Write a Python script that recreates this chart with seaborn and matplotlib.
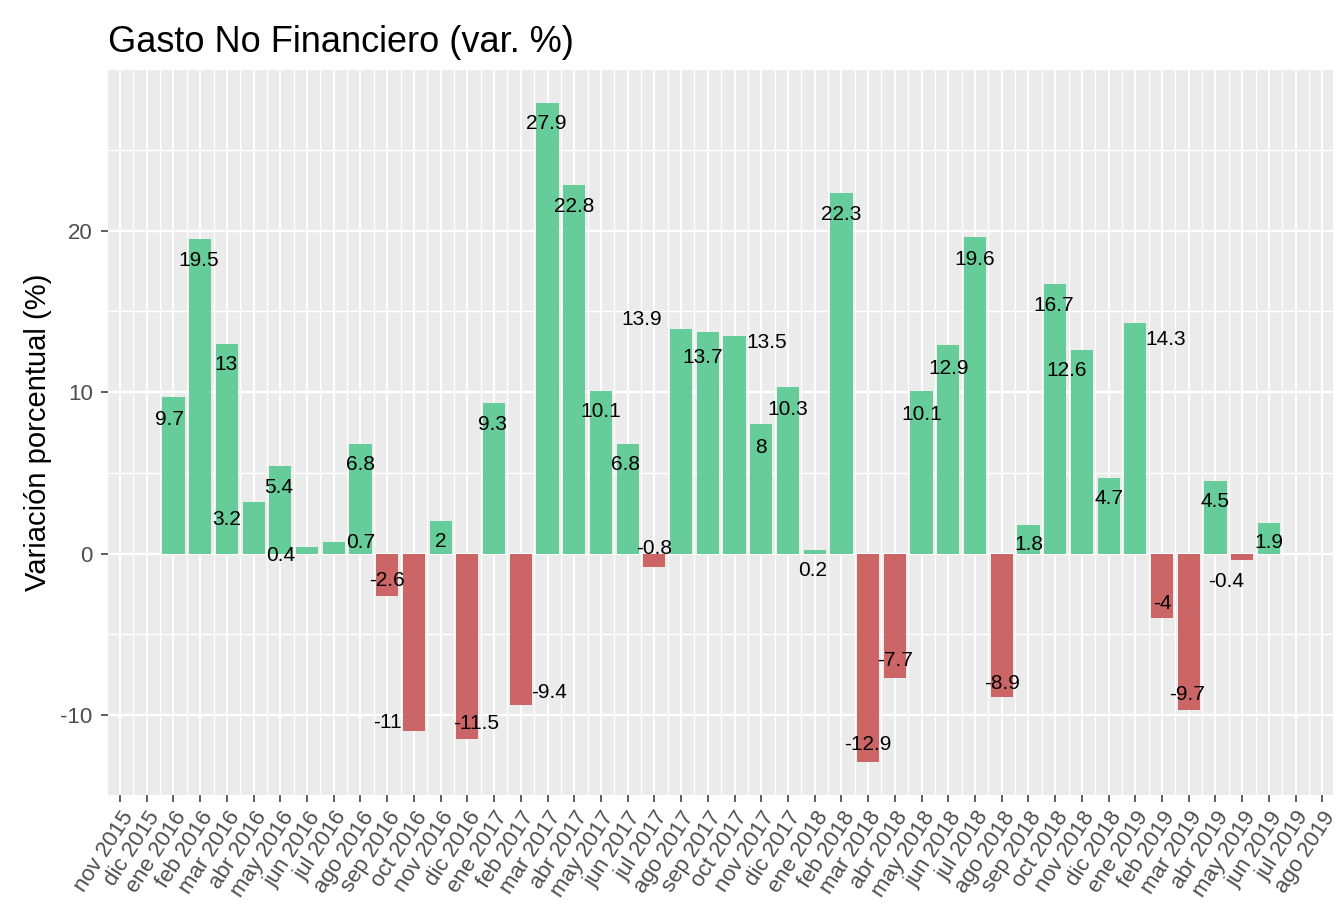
import numpy as np
import pandas as pd
import matplotlib
matplotlib.use("Agg")
import matplotlib.pyplot as plt
from matplotlib.ticker import FixedLocator, MultipleLocator
import seaborn as sns


# ── datos ────────────────────────────────────────────────────────────────────
MESES = ["ene", "feb", "mar", "abr", "may", "jun",
         "jul", "ago", "sep", "oct", "nov", "dic"]

# eje x: nov 2015 .. ago 2019 (un rótulo por mes)
AXIS_MONTHS = [f"{MESES[(10 + k) % 12]} {2015 + (10 + k) // 12}" for k in range(46)]

# barras: ene 2016 .. jun 2019
BAR_MONTHS = AXIS_MONTHS[2:44]

VAR_PCT = [9.7, 19.5, 13, 3.2, 5.4, 0.4, 0.7, 6.8, -2.6, -11, 2, -11.5,
           9.3, -9.4, 27.9, 22.8, 10.1, 6.8, -0.8, 13.9, 13.7, 13.5, 8, 10.3,
           0.2, 22.3, -12.9, -7.7, 10.1, 12.9, 19.6, -8.9, 1.8, 16.7, 12.6, 4.7,
           14.3, -4, -9.7, 4.5, -0.4, 1.9]

# desplazamiento de cada etiqueta (jitter del original): meses / puntos
LABEL_DX = [-0.13, -0.04, -0.04, -1.0, -0.07, -0.98, 1.0, 0, 0, -1.0, 0, 0.34,
            -0.05, 1.07, -0.05, 0, 0, -0.07, 0, -1.46, -0.19, 1.2, 0, 0,
            -0.09, 0, 0, 0, 0, 0, 0, 0, 0, -0.07, -0.56, 0,
            1.14, 0, -0.08, 0, -0.6, 0]
LABEL_DY = [-1.37, -1.33, -1.31, -1.08, -1.28, -0.54, 0.0, -1.29, 0.95, 0.57, -1.22, 0.96,
            -1.32, 0.78, -1.3, -1.28, -1.29, -1.29, 1.11, 0.6, -1.56, -0.41, -1.41, -1.35,
            -1.27, -1.31, 1.09, 1.11, -1.46, -1.42, -1.39, 0.88, -1.26, -1.31, -1.29, -1.29,
            -1.03, 0.91, 0.95, -1.25, -1.35, -1.22]

COLORS = {"pos": "#66CC99", "neg": "#CC6666"}


# ── estilo tipo ggplot ───────────────────────────────────────────────────────
sns.set_theme(style="darkgrid", rc={
    "axes.facecolor": "#EBEBEB",
    "grid.color": "white",
    "axes.unicode_minus": False,
})
plt.rcParams["font.family"] = ["Liberation Sans", "DejaVu Sans"]

df = pd.DataFrame({"mes": BAR_MONTHS, "var": VAR_PCT})
df["signo"] = np.where(df["var"] >= 0, "pos", "neg")

fig = plt.figure(figsize=(13.38, 9.07), dpi=100)
ax = fig.add_axes([0.0807, 0.1235, 0.9156, 0.7993])

sns.barplot(data=df, x="mes", y="var", hue="signo", order=AXIS_MONTHS,
            palette=COLORS, dodge=False, width=0.83, saturation=1,
            linewidth=0, errorbar=None, legend=False, ax=ax)

# — etiquetas de valor —
for mes, v, dx, dy in zip(BAR_MONTHS, VAR_PCT, LABEL_DX, LABEL_DY):
    pos = AXIS_MONTHS.index(mes)
    ax.text(pos + dx, v + dy, f"{v:g}", ha="center", va="center",
            fontsize=15, color="black")

# — ejes —
ax.set_xlim(-0.45, 45.4)
ax.set_ylim(-14.94, 29.94)
ax.yaxis.set_major_locator(FixedLocator([-10, 0, 10, 20]))
ax.yaxis.set_minor_locator(MultipleLocator(5))
ax.xaxis.set_minor_locator(FixedLocator(np.arange(-0.5, 46, 1)))

ax.xaxis.grid(which="major", color="white", linewidth=1.3)
ax.xaxis.grid(which="minor", color="white", linewidth=1.0)
ax.yaxis.grid(which="major", color="white", linewidth=1.6)
ax.yaxis.grid(which="minor", color="white", linewidth=1.0)
ax.set_axisbelow(True)
for s in ax.spines.values():
    s.set_visible(False)

ax.tick_params(axis="both", which="major", length=5, width=1.1,
               color="#333333", labelcolor="#4D4D4D", labelsize=16,
               bottom=True, left=True)
ax.tick_params(axis="y", which="major", pad=6)
ax.tick_params(axis="x", which="major", pad=4)
ax.tick_params(which="minor", length=0)

plt.setp(ax.get_xticklabels(), rotation=57, ha="right", va="top",
         rotation_mode="anchor")

ax.set_xlabel("")
ax.set_ylabel("Variación porcentual (%)", fontsize=21, color="black")
ax.yaxis.set_label_coords(-0.046, 0.5)
ax.set_title("Gasto No Financiero (var. %)", loc="left", fontsize=26,
             color="black", pad=13)

fig.savefig("out.png", dpi=100)
